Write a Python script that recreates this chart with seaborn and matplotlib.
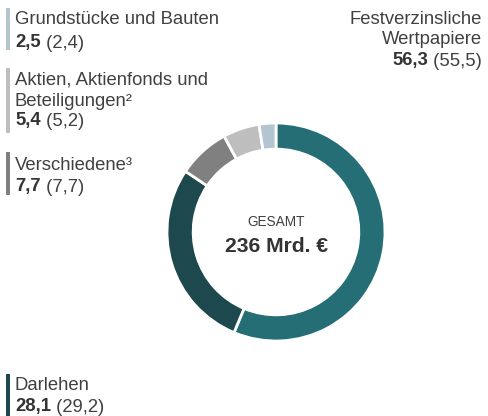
import matplotlib
matplotlib.use("Agg")
import matplotlib.pyplot as plt
import seaborn as sns
from matplotlib.patches import Rectangle

# data (Mrd. €, Vorjahr in Klammern)
labels = ["Festverzinsliche Wertpapiere", "Darlehen", "Verschiedene",
          "Aktien, Aktienfonds und Beteiligungen", "Grundstücke und Bauten"]
values = [56.3, 28.1, 7.7, 5.4, 2.5]
prev_values = [55.5, 29.2, 7.7, 5.2, 2.4]
colors = ["#266e75", "#1d484e", "#808080", "#bebebe", "#b3c5cf"]
total_label = "236 Mrd. €"

sns.set_theme(style="white")
plt.rcParams['font.family'] = ['Liberation Sans', 'DejaVu Sans']

W, H = 488, 416
fig = plt.figure(figsize=(W / 100, H / 100), dpi=100)
fig.patch.set_facecolor("white")

# donut: centre (276, 232) px, radius 109 px
cx, cy, r = 276, 232, 109
ax = fig.add_axes([(cx - r) / W, (H - cy - r) / H, 2 * r / W, 2 * r / H])
ax.pie(values, colors=colors, startangle=90, counterclock=False, radius=1,
       wedgeprops=dict(width=0.24, edgecolor="white", linewidth=2))
ax.set_xlim(-1, 1)
ax.set_ylim(-1, 1)
ax.set_aspect("equal")
ax.axis("off")

# overlay for texts, pixel coords from top-left
tx = fig.add_axes([0, 0, 1, 1], zorder=5)
tx.set_xlim(0, W)
tx.set_ylim(H, 0)
tx.axis("off")
tx.patch.set_alpha(0)

txt_col = "#404040"
fs = 13.3

tx.text(cx + 0.5, 222, "GESAMT", ha="center", va="center", fontsize=9.8, color=txt_col)
tx.text(cx + 0.5, 246, total_label, ha="center", va="center", fontsize=15.2,
        fontweight="bold", color="#333333")


def fmt(v):
    return f"{v:.1f}".replace(".", ",")


def value_line(x, y, i, align="left"):
    if align == "left":
        b = tx.text(x, y, fmt(values[i]), ha="left", va="center", fontsize=fs,
                    fontweight="bold", color="#333333")
        tx.annotate(f" ({fmt(prev_values[i])})", xy=(1, 0), xycoords=b, ha="left",
                    va="bottom", fontsize=fs, color=txt_col)
    else:
        p = tx.text(x, y, f" ({fmt(prev_values[i])})", ha="right", va="center",
                    fontsize=fs, color=txt_col)
        tx.annotate(fmt(values[i]), xy=(0, 0), xycoords=p, ha="right", va="bottom",
                    fontsize=fs, fontweight="bold", color="#333333")


def block(i, lines, ys, bar):
    tx.add_patch(Rectangle((6, bar[0]), 4, bar[1] - bar[0], color=colors[i], lw=0))
    for line, y in zip(lines, ys[:-1]):
        tx.text(15, y, line, ha="left", va="center", fontsize=fs, color=txt_col)
    value_line(15, ys[-1], i)


block(4, ["Grundstücke und Bauten"], [20, 43], (8, 50))
block(3, ["Aktien, Aktienfonds und", "Beteiligungen²"], [80, 101, 121], (68, 133))
block(2, ["Verschiedene³"], [165, 187], (152, 195))
block(1, ["Darlehen"], [386, 407], (374, 416))

# right block
for line, y in zip(["Festverzinsliche", "Wertpapiere"], [19, 40]):
    tx.text(482, y, line, ha="right", va="center", fontsize=fs, color=txt_col)
value_line(482, 61, 0, align="right")

fig.savefig("out.png", dpi=100, facecolor="white")
